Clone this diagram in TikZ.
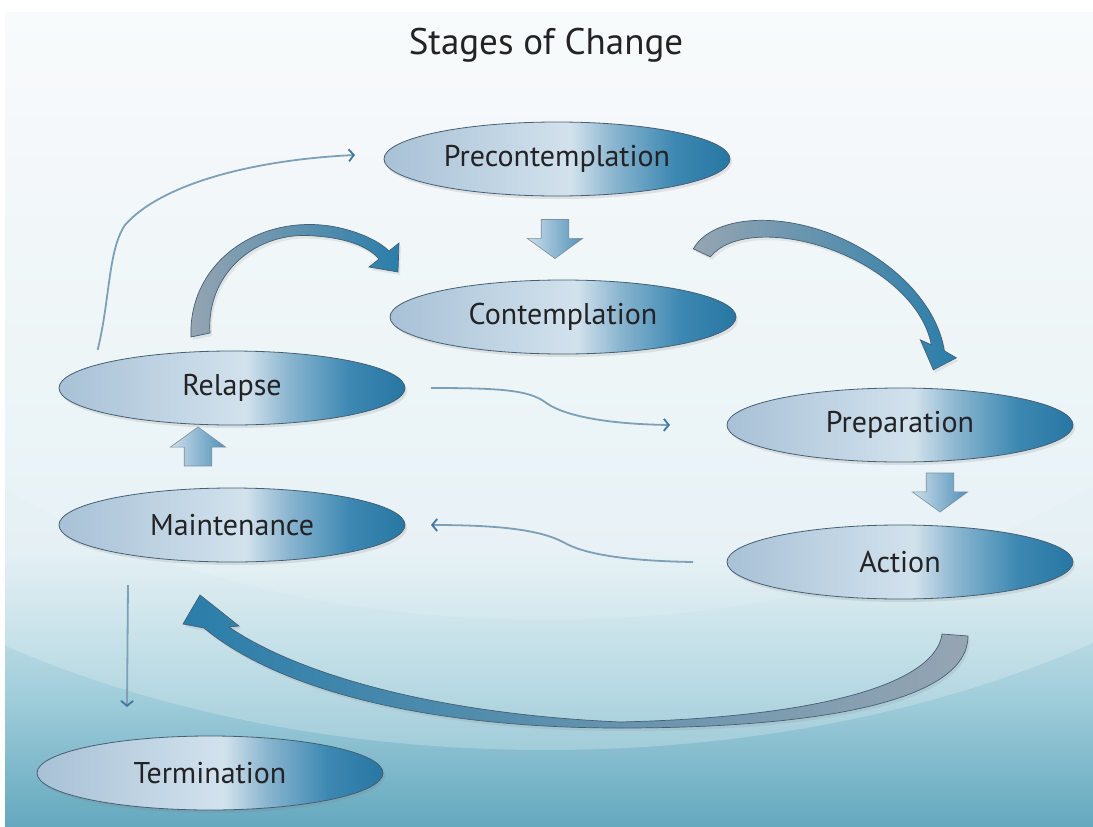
\documentclass[tikz,border=0pt]{standalone}
\usepackage{fontspec}
\setmainfont{PT Sans}
\usetikzlibrary{shapes.geometric, shapes.arrows, positioning, calc, shadows, arrows.meta}

\definecolor{stgA}{RGB}{168,193,214}
\definecolor{stgB}{RGB}{210,226,237}
\definecolor{stgM}{RGB}{140,182,208}
\definecolor{stgC}{RGB}{60,136,178}
\definecolor{stgD}{RGB}{40,118,163}
\definecolor{stgEdge}{RGB}{70,95,115}
\definecolor{arwGray}{RGB}{150,165,178}
\definecolor{arwBlue}{RGB}{42,126,170}
\definecolor{lineBlue}{RGB}{125,160,182}
\definecolor{tipBlue}{RGB}{60,120,160}
\definecolor{blkL}{RGB}{205,222,235}
\definecolor{blkR}{RGB}{80,145,185}
\definecolor{bgTop}{RGB}{247,250,252}
\definecolor{bgMid}{RGB}{222,237,242}
\definecolor{bgLow}{RGB}{160,205,218}
\definecolor{bgBot}{RGB}{100,168,190}
\definecolor{txtDark}{RGB}{35,35,38}

\pgfdeclarehorizontalshading{stagegrad}{100bp}{color(0bp)=(stgA); color(25bp)=(stgA); color(52bp)=(stgB); color(58bp)=(stgM); color(67bp)=(stgC); color(75bp)=(stgD); color(100bp)=(stgD)}
\pgfdeclareverticalshading{bgshade}{100bp}{color(0bp)=(bgBot); color(25bp)=(bgBot); color(33bp)=(bgLow); color(42bp)=(bgMid); color(75bp)=(bgTop); color(100bp)=(bgTop)}

\begin{document}
\begin{tikzpicture}
	[x=1pt, y=-1pt,
	 >={Straight Barb[length=5pt,width=12pt,color=tipBlue]},
	 stage/.style={ellipse, draw=stgEdge, line width=0.8pt, shading=stagegrad,
	   minimum width=346pt, minimum height=74pt, inner sep=2pt, outer sep=0pt,
	   text=txtDark, font=\fontsize{30}{33}\selectfont,
	   drop shadow={opacity=0.18, shadow xshift=2pt, shadow yshift=-3pt}},
	 thinarrow/.style={->, line width=1.8pt, draw=lineBlue},
	 blockarrow/.style={single arrow, draw=stgEdge!70, line width=0.6pt, left color=blkL, right color=blkR,
	   minimum height=39pt, single arrow head extend=14pt,
	   single arrow tip angle=108, inner sep=13.5pt, outer sep=0pt},
	 bigarrow/.style={draw=stgEdge, line width=0.7pt,
	   drop shadow={opacity=0.15, shadow xshift=2pt, shadow yshift=-3pt}}]

	\useasboundingbox (0,0) rectangle (1093,827);
	\fill[white] (0,0) rectangle (1093,827);
	\begin{scope}
		\clip (5,12) rectangle (1093,827);
		\shade[shading=bgshade] (5,12) rectangle (1093,827);
		\fill[white, opacity=0.22] (546,230) ellipse [x radius=900, y radius=520];
		\fill[white, opacity=0.12] (546,180) ellipse [x radius=760, y radius=440];
	\end{scope}

	\node[text=txtDark, font=\fontsize{37}{42}\selectfont] (title) at (546,45) {Stages of Change};

	\node[stage] (pre) at (557,159) {Precontemplation};
	\node[stage, below=84pt of pre, xshift=6pt] (con) {Contemplation};
	\node[stage] (rel) at (232,388) {Relapse};
	\node[stage, below=63pt of rel] (mai) {Maintenance};
	\node[stage] (prp) at (900,425) {Preparation};
	\node[stage, below=63pt of prp] (act) {Action};
	\node[stage] (ter) at (210,773) {Termination};

	\node[blockarrow, rotate=-90] (pc) at ($(pre.south)!0.5!(con.north)+(-5,-4)$) {};
	\node[blockarrow, rotate=90] (mr) at ($(mai.north)!0.5!(rel.south)+(-34,-5)$) {};
	\node[blockarrow, rotate=-90] (pa) at ($(prp.south)!0.5!(act.north)+(40,-6)$) {};

	\shade[bigarrow, left color=arwGray, right color=arwBlue, shift={(rel.north)}]
	  (-41,-14) .. controls (-44,-86) and (23,-136) .. (98,-125) .. controls (123,-121) and (146,-111) .. (157,-100)
	  -- (167,-108) -- (166,-79) -- (137,-84) -- (147,-92)
	  .. controls (136,-105) and (113,-113) .. (83,-115) .. controls (26,-121) and (-26,-79) .. (-22,-18) -- cycle;
	\shade[bigarrow, left color=arwGray, right color=arwBlue, shift={(con.north east)}]
	  (8,-42) .. controls (25,-72) and (83,-80) .. (143,-58) .. controls (203,-35) and (251,10) .. (259,60)
	  -- (271,67) -- (248,79) -- (235,49) -- (246,54)
	  .. controls (238,12) and (193,-26) .. (138,-44) .. controls (88,-60) and (43,-56) .. (25,-34) -- cycle;
	\shade[bigarrow, left color=arwBlue, middle color=arwBlue, right color=arwGray, shift={(act.south)}]
	  (42,35) -- (68,37) .. controls (68,102) and (-80,129) .. (-280,129) .. controls (-470,129) and (-620,92) .. (-696,29)
	  -- (-717,25) -- (-700,-4) -- (-661,27) -- (-671,28)
	  .. controls (-610,70) and (-480,114) .. (-280,123) .. controls (-70,118) and (36,82) .. (42,35) -- cycle;

	\draw[thinarrow] ($(rel.north west)+(-12,-12)$) .. controls (110,300) and (108,250) .. (125,225)
	  .. controls (160,185) and (250,160) .. ($(pre.west)+(-29,-4)$);
	\draw[thinarrow] ($(rel.east)+(26,0)$) .. controls (500,388) and (528,390) .. (545,402)
	  .. controls (560,414) and (600,424) .. ($(prp.west)+(-57,0)$);
	\draw[thinarrow] ($(act.west)+(-34,0)$) .. controls (630,561) and (585,555) .. (563,542)
	  .. controls (540,530) and (500,525) .. ($(mai.east)+(26,0)$);
	\draw[thinarrow] ($(mai.south)+(-104,23)$) -- ($(ter.north)+(-83,-29)$);
\end{tikzpicture}
\end{document}
